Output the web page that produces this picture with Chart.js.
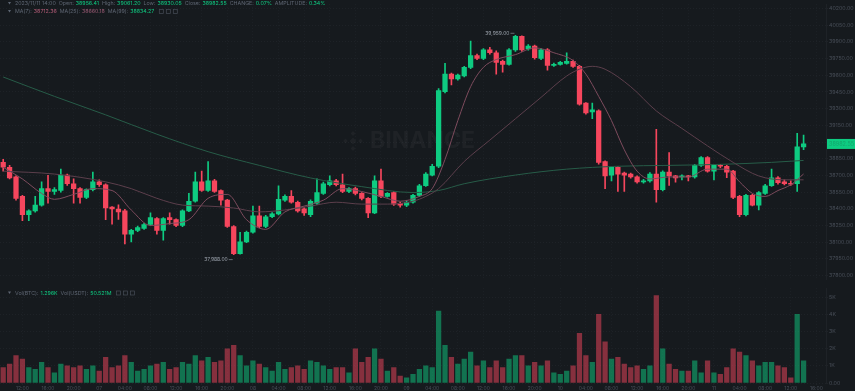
<!DOCTYPE html>
<html>
<head>
<meta charset="utf-8">
<script src="https://cdn.jsdelivr.net/npm/chart.js@4.4.1/dist/chart.umd.min.js"></script>
<style>
  html, body { margin: 0; padding: 0; background: #161a1e; }
  #wrap { position: relative; width: 855px; height: 391px; overflow: hidden; }
  #price { position: absolute; left: 0; top: 0; }
  #volume { position: absolute; left: 0; top: 284px; }
</style>
</head>
<body>
<div id="wrap">
  <canvas id="price" width="855" height="284"></canvas>
  <canvas id="volume" width="855" height="107"></canvas>
</div>
<script>
// 1h candles, BTC/USDT
const headerTime = '2023/11/11 14:00';

const opens = [
  38817,38773,38686,38511,38346,38381,38433,38581,38555,38564,
  38703,38625,38581,38503,38572,38642,38616,38415,38398,38381,
  38172,38206,38224,38259,38311,38206,38320,38302,38250,38381,
  38468,38642,38564,38651,38564,38477,38241,37997,38102,38189,
  38337,38241,38328,38354,38477,38511,38459,38400,38346,38450,
  38538,38616,38651,38616,38555,38581,38538,38494,38363,38651,
  38511,38546,38450,38433,38459,38520,38607,38703,38782,39453,
  39610,39567,39593,39671,39776,39750,39828,39802,39724,39697,
  39828,39950,39837,39863,39750,39828,39689,39697,39706,39724,
  39680,39349,39270,39279,38825,38703,38773,38721,38712,38686,
  38642,38651,38712,38572,38730,38695,38686,38695,38686,38790,
  38860,38738,38790,38782,38738,38511,38346,38520,38433,38538,
  38607,38677,38642,38628,38625,38956.41
];
const highs = [
  38845,38790,38695,38520,38390,38511,38642,38700,38590,38756,
  38712,38668,38590,38580,38730,38660,38625,38420,38436,38395,
  38215,38245,38270,38363,38320,38320,38363,38310,38390,38538,
  38730,38738,38825,38665,38570,38485,38250,38189,38200,38424,
  38424,38340,38365,38607,38525,38564,38470,38410,38480,38668,
  38640,38695,38665,38712,38590,38595,38545,38500,38695,38756,
  38545,38555,38460,38468,38530,38620,38725,38800,39480,39706,
  39620,39610,39680,39907,39790,39840,39850,39820,39735,39840,
  39959,39955,39875,39870,39840,39840,39710,39725,39802,39735,
  39690,39355,39349,39290,38830,38780,38780,38730,38720,38695,
  38665,38725,39113,38740,38904,38700,38705,38700,38800,38870,
  38870,38800,38800,38790,38745,38520,38530,38530,38555,38620,
  38756,38690,38660,38650,39078,39061.20
];
const lows = [
  38738,38668,38477,38293,38293,38370,38424,38450,38530,38550,
  38610,38450,38450,38490,38560,38600,38302,38262,38305,38084,
  38102,38195,38215,38250,38172,38119,38262,38240,38240,38375,
  38460,38555,38555,38546,38433,38232,37988,37992,38095,38180,
  38230,38230,38320,38345,38465,38450,38370,38340,38330,38440,
  38530,38605,38605,38545,38545,38525,38480,38320,38355,38500,
  38505,38430,38415,38420,38450,38510,38600,38695,38770,39440,
  39514,39555,39585,39660,39740,39740,39790,39610,39628,39690,
  39815,39815,39825,39745,39740,39645,39680,39690,39700,39670,
  39330,39250,39210,38800,38581,38651,38555,38555,38675,38630,
  38630,38640,38459,38560,38610,38640,38660,38650,38675,38780,
  38730,38660,38770,38680,38490,38330,38335,38425,38390,38530,
  38600,38620,38615,38610,38555,38930.05
];
const closes = [
  38773,38677,38494,38346,38381,38433,38581,38555,38572,38703,
  38625,38581,38503,38572,38642,38616,38407,38398,38372,38172,
  38206,38232,38259,38320,38206,38311,38302,38250,38381,38468,
  38642,38564,38651,38555,38477,38241,37997,38102,38189,38337,
  38241,38328,38354,38485,38511,38459,38381,38363,38468,38546,
  38625,38651,38616,38555,38581,38538,38494,38363,38651,38511,
  38538,38442,38433,38459,38520,38607,38712,38782,39462,39610,
  39567,39601,39671,39776,39750,39828,39802,39715,39697,39828,
  39950,39828,39863,39758,39828,39689,39697,39715,39724,39680,
  39340,39261,39288,38817,38695,38773,38712,38703,38686,38642,
  38651,38712,38572,38730,38695,38677,38695,38686,38790,38860,
  38738,38790,38782,38730,38503,38346,38520,38433,38546,38607,
  38677,38634,38625,38620,38956,38982.55
];
const volumes = [
  900,1100,1600,1400,900,800,1200,900,600,1100,
  1000,900,1000,800,1000,700,1500,900,1000,1600,
  1200,700,800,1000,1100,1200,800,900,1200,1100,
  1600,1300,1500,1200,1300,2000,2200,1600,1000,1300,
  1100,900,700,1200,800,900,1000,800,1300,1200,
  1000,800,900,900,600,2000,1200,1500,2000,1400,
  700,900,400,300,500,800,1000,900,4200,2200,
  1500,1100,1400,1800,1000,1300,900,1300,900,1400,
  1600,1600,1000,1200,1000,1300,600,500,700,1000,
  2900,1600,1200,4000,2400,1400,1500,1100,900,1000,
  800,1000,5100,2000,1100,800,700,700,1300,600,
  1300,600,500,900,2000,1800,1600,1300,1000,1200,
  1200,1000,900,300,4000,1296
];

// moving averages at selected candles
const ma7Idx = [0,3,6,8,11,14,17,20,23,26,29,32,35,38,41,44,47,50,53,56,59,62,65,67,69,71,73,75,77,80,83,86,89,91,93,95,97,99,101,104,107,110,113,115,117,119,121,123,125];
const ma7Val = [38773,38668,38538,38485,38529,38581,38564,38389,38250,38267,38302,38494,38529,38302,38215,38372,38424,38477,38581,38555,38511,38468,38511,38581,38843,39192,39497,39671,39741,39785,39846,39802,39732,39610,39410,39192,38930,38738,38668,38686,38686,38756,38756,38642,38538,38511,38564,38616,38712.36];
const ma25Idx = [0,8,16,20,24,28,32,36,40,44,48,52,56,60,64,66,68,72,76,80,84,88,90,92,94,98,102,106,110,114,118,122,125];
const ma25Val = [38738,38712,38642,38581,38494,38433,38424,38407,38372,38389,38424,38459,38442,38442,38468,38511,38581,38825,39017,39209,39401,39593,39654,39680,39654,39497,39279,39122,38965,38817,38695,38660,38660.18];
const ma99Idx = [0,8,16,24,32,40,48,56,64,68,72,80,88,96,104,112,120,125];
const ma99Val = [39584,39410,39244,39070,38913,38790,38677,38599,38546,38564,38625,38703,38756,38782,38790,38799,38817,38834.27];

// time axis: one label every 4 candles, starting at slot 3
const tickLabels = ['12:00','16:00','20:00','07','04:00','08:00','12:00','16:00','20:00','08','04:00','08:00','12:00','16:00','20:00','09','04:00','08:00','12:00','16:00','20:00','10','04:00','08:00','12:00','16:00','20:00','11','04:00','08:00','12:00','16:00'];
const priceTicks = [37800,37950,38100,38250,38400,38550,38700,38850,39000,39150,39300,39450,39600,39750,39900,40050,40200];
const volTicks = [0,1000,2000,3000,4000,5000];

const SLOTS = 129;
const up = '#0ecb81', down = '#f6465d';
const upVol = 'rgba(14,203,129,0.5)', downVol = 'rgba(246,70,93,0.5)';
const gridColor = '#1e2227';
const textGray = '#5e6673';
const axisGray = '#474d57';

Chart.defaults.font.family = 'Inter, sans-serif';
Chart.defaults.animation = false;

const slots = [];
for (let i = 0; i < SLOTS; i++) slots.push(i);
const isUp = closes.map((c, i) => c >= opens[i]);
const candleColors = isUp.map(u => u ? up : down);
const volColors = isUp.map(u => u ? upVol : downVol);

function sparse(idx, val) {
  const out = new Array(opens.length).fill(null);
  idx.forEach((k, j) => { out[k] = val[j]; });
  return out;
}

function fmt(v) { return v.toFixed(2); }
function fmtComma(v) { return v.toLocaleString('en-US', {minimumFractionDigits: 2, maximumFractionDigits: 2}); }

function drawSegments(ctx, x, y, segs) {
  segs.forEach(s => {
    ctx.fillStyle = s[1];
    ctx.fillText(s[0], x, y);
    x += ctx.measureText(s[0]).width + (s[2] || 2);
  });
  return x;
}
function drawIcons(ctx, x, y) {
  ctx.strokeStyle = axisGray;
  ctx.lineWidth = 0.7;
  for (let k = 0; k < 3; k++) {
    ctx.strokeRect(x + k * 7, y - 2, 4, 4);
  }
}
function drawArrow(ctx, x, y) {
  ctx.fillStyle = textGray;
  ctx.beginPath();
  ctx.moveTo(x, y - 1.5);
  ctx.lineTo(x + 3, y - 1.5);
  ctx.lineTo(x + 1.5, y + 1);
  ctx.closePath();
  ctx.fill();
}

const last = opens.length - 1;

const overlayPlugin = {
  id: 'overlay',
  beforeDatasetsDraw(chart) {
    // watermark
    const ctx = chart.ctx;
    ctx.save();
    ctx.fillStyle = 'rgba(255,255,255,0.04)';
    ctx.font = 'bold 23px Inter, sans-serif';
    ctx.textBaseline = 'middle';
    ctx.fillText('BINANCE', 370, 141);
    const cx = 353, cy = 141;
    [[0,0,3.4],[0,-7.5,2.4],[0,7.5,2.4],[-7.5,0,2.4],[7.5,0,2.4]].forEach(d => {
      ctx.beginPath();
      ctx.moveTo(cx + d[0], cy + d[1] - d[2]);
      ctx.lineTo(cx + d[0] + d[2], cy + d[1]);
      ctx.lineTo(cx + d[0], cy + d[1] + d[2]);
      ctx.lineTo(cx + d[0] - d[2], cy + d[1]);
      ctx.closePath();
      ctx.fill();
    });
    ctx.restore();
  },
  afterDatasetsDraw(chart) {
    const ctx = chart.ctx;
    const xs = chart.scales.x, ys = chart.scales.y;
    let hi = 0, lo = 0;
    highs.forEach((h, i) => { if (h > highs[hi]) hi = i; });
    lows.forEach((l, i) => { if (l < lows[lo]) lo = i; });
    ctx.save();
    ctx.font = '5px Inter, sans-serif';
    ctx.textBaseline = 'middle';
    ctx.textAlign = 'right';
    ctx.strokeStyle = '#9aa1ab';
    ctx.fillStyle = '#9aa1ab';
    ctx.lineWidth = 0.6;
    let x = xs.getPixelForValue(hi), y = ys.getPixelForValue(highs[hi]) - 2;
    ctx.beginPath(); ctx.moveTo(x - 1, y); ctx.lineTo(x - 5, y); ctx.stroke();
    ctx.fillText(fmtComma(highs[hi]), x - 6, y);
    x = xs.getPixelForValue(lo); y = ys.getPixelForValue(lows[lo]) + 5;
    ctx.beginPath(); ctx.moveTo(x - 1, y); ctx.lineTo(x - 5, y); ctx.stroke();
    ctx.fillText(fmtComma(lows[lo]), x - 6, y);
    ctx.restore();
  },
  afterDraw(chart) {
    const ctx = chart.ctx;
    const ys = chart.scales.y;
    const area = chart.chartArea;
    ctx.save();
    // current price tag
    const py = ys.getPixelForValue(closes[last]);
    ctx.fillStyle = isUp[last] ? up : down;
    ctx.fillRect(area.right + 1, py - 5, 855 - area.right - 1, 10);
    ctx.fillStyle = '#13a56c';
    ctx.font = '5.5px Inter, sans-serif';
    ctx.textBaseline = 'middle';
    ctx.fillText(fmt(closes[last]), area.right + 3, py);

    // header rows
    ctx.font = '5.3px Inter, sans-serif';
    const o = opens[last], h = highs[last], l = lows[last], c = closes[last];
    const vc = isUp[last] ? up : down;
    drawArrow(ctx, 8, 3.5);
    drawSegments(ctx, 15, 3.5, [
      [headerTime, textGray, 3],
      ['Open:', textGray], [fmt(o), vc, 3],
      ['High:', textGray], [fmt(h), vc, 3],
      ['Low:', textGray], [fmt(l), vc, 3],
      ['Close:', textGray], [fmt(c), vc, 3],
      ['CHANGE:', textGray], [((c - o) / o * 100).toFixed(2) + '%', vc, 3],
      ['AMPLITUDE:', textGray], [((h - l) / l * 100).toFixed(2) + '%', vc, 3]
    ]);
    drawArrow(ctx, 8, 11.5);
    const ex = drawSegments(ctx, 15, 11.5, [
      ['MA(7):', textGray], [fmt(ma7Val[ma7Val.length - 1]), '#b45c78', 3],
      ['MA(25):', textGray], [fmt(ma25Val[ma25Val.length - 1]), '#9a5a74', 3],
      ['MA(99):', textGray], [fmt(ma99Val[ma99Val.length - 1]), up, 3]
    ]);
    drawIcons(ctx, ex + 2, 11.5);
    ctx.restore();
  }
};

const volHeaderPlugin = {
  id: 'volHeader',
  afterDraw(chart) {
    const ctx = chart.ctx;
    ctx.save();
    ctx.font = '5.3px Inter, sans-serif';
    ctx.textBaseline = 'middle';
    const vc = isUp[last] ? up : down;
    drawArrow(ctx, 8, 9);
    const ex = drawSegments(ctx, 15, 9, [
      ['Vol(BTC):', textGray], [(volumes[last] / 1000).toFixed(3) + 'K', vc, 3],
      ['Vol(USDT):', textGray], [(volumes[last] * closes[last] / 1e6).toFixed(3) + 'M', vc, 3]
    ]);
    drawIcons(ctx, ex + 2, 9);
    ctx.restore();
  }
};

const xGrid = {
  offset: false,
  color: c => (c.index % 4 === 3 ? gridColor : 'rgba(0,0,0,0)'),
  lineWidth: 1
};

new Chart(document.getElementById('price'), {
  type: 'bar',
  data: {
    labels: slots,
    datasets: [
      { type: 'line', data: sparse(ma7Idx, ma7Val), borderColor: '#7e4c5e', borderWidth: 1, pointRadius: 0, spanGaps: true, cubicInterpolationMode: 'monotone', order: 0 },
      { type: 'line', data: sparse(ma25Idx, ma25Val), borderColor: '#5c3f4c', borderWidth: 1, pointRadius: 0, spanGaps: true, cubicInterpolationMode: 'monotone', order: 0 },
      { type: 'line', data: sparse(ma99Idx, ma99Val), borderColor: '#275c48', borderWidth: 1, pointRadius: 0, spanGaps: true, cubicInterpolationMode: 'monotone', order: 0 },
      { data: opens.map((o, i) => [o, closes[i]]), backgroundColor: candleColors, barThickness: 4.6, minBarLength: 1, grouped: false, order: 1 },
      { data: lows.map((l, i) => [l, highs[i]]), backgroundColor: candleColors, barThickness: 1, grouped: false, order: 2 }
    ]
  },
  options: {
    responsive: false,
    devicePixelRatio: 1,
    layout: { padding: 0 },
    plugins: { legend: { display: false }, tooltip: { enabled: false } },
    scales: {
      x: {
        offset: true,
        ticks: { display: false },
        grid: { ...xGrid, drawTicks: false },
        border: { display: false, dash: [1, 2] },
        afterFit: s => { s.height = 0; }
      },
      y: {
        position: 'right',
        min: 37761.6,
        max: 40238.4,
        afterBuildTicks: s => { s.ticks = priceTicks.map(v => ({ value: v })); },
        afterFit: s => { s.width = 29; },
        ticks: { font: { size: 5.3 }, color: axisGray, padding: 1, callback: v => fmt(v) },
        grid: { color: gridColor, tickLength: 2 },
        border: { color: gridColor, dash: [1, 2] }
      }
    }
  },
  plugins: [overlayPlugin]
});

new Chart(document.getElementById('volume'), {
  type: 'bar',
  data: {
    labels: slots,
    datasets: [
      { data: volumes, backgroundColor: volColors, barThickness: 4.6, grouped: false }
    ]
  },
  options: {
    responsive: false,
    devicePixelRatio: 1,
    layout: { padding: 0 },
    plugins: { legend: { display: false }, tooltip: { enabled: false } },
    scales: {
      x: {
        offset: true,
        ticks: {
          autoSkip: false, maxRotation: 0, padding: 0,
          font: { size: 5 }, color: axisGray,
          callback: (v, i) => (i % 4 === 3 ? tickLabels[(i - 3) / 4] : '')
        },
        grid: { ...xGrid, tickLength: 2 },
        border: { display: false, dash: [1, 2] },
        afterFit: s => { s.height = 8; }
      },
      y: {
        position: 'right',
        min: 0,
        max: 5531,
        afterBuildTicks: s => { s.ticks = volTicks.map(v => ({ value: v })); },
        afterFit: s => { s.width = 29; },
        ticks: { font: { size: 5.3 }, color: axisGray, padding: 1, callback: v => (v === 0 ? '0.00' : (v / 1000) + 'K') },
        grid: { color: gridColor, tickLength: 2 },
        border: { color: gridColor, dash: [1, 2] }
      }
    }
  },
  plugins: [volHeaderPlugin]
});
</script>
</body>
</html>
